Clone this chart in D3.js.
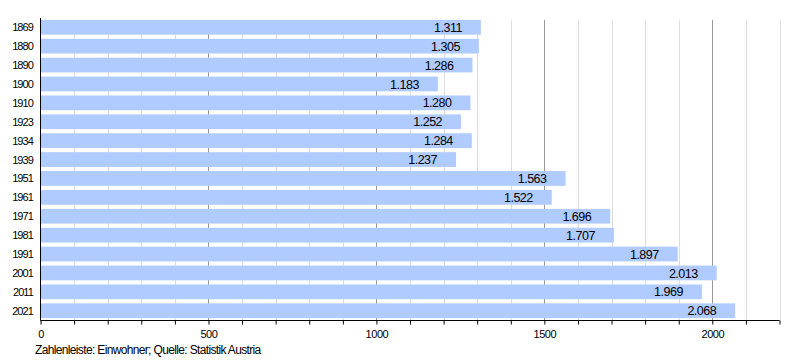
<!DOCTYPE html>
<html><head><meta charset="utf-8">
<script src="https://cdn.jsdelivr.net/npm/d3@7"></script>
<style>body{margin:0;background:#fff}svg{font-family:"Liberation Sans",Arial,sans-serif}</style>
</head><body>
<svg id="c" width="800" height="360"></svg>
<script>
const years = ["1869","1880","1890","1900","1910","1923","1934","1939","1951","1961","1971","1981","1991","2001","2011","2021"];
const population = [1311,1305,1286,1183,1280,1252,1284,1237,1563,1522,1696,1707,1897,2013,1969,2068];
const majorTicks = [0,500,1000,1500,2000];
const caption = "Zahlenleiste: Einwohner; Quelle: Statistik Austria";

const svg = d3.select("#c");
const x = d3.scaleLinear().domain([0,2200]).range([40.5,779.5]);
const y = d3.scaleBand().domain(years).range([18,320]).paddingInner(0.22).paddingOuter(0.1);
const axisY = 320.5;

// grid
const minor = d3.range(100,2201,100).filter(v=>v%500!==0);
svg.append("g").selectAll("line").data(minor).join("line")
  .attr("x1",d=>Math.round(x(d))+0.5).attr("x2",d=>Math.round(x(d))+0.5)
  .attr("y1",20).attr("y2",axisY).attr("stroke","#dddddd").attr("stroke-width",1);
svg.append("g").selectAll("line").data(majorTicks.filter(d=>d>0)).join("line")
  .attr("x1",d=>Math.round(x(d))+0.5).attr("x2",d=>Math.round(x(d))+0.5)
  .attr("y1",20).attr("y2",axisY).attr("stroke","#999999").attr("stroke-width",1);

// bars
svg.append("g").selectAll("rect").data(years).join("rect")
  .attr("x",x(0)).attr("y",d=>y(d))
  .attr("width",(d,i)=>x(population[i])-x(0)).attr("height",y.bandwidth())
  .attr("fill","#b0cbff");

// value labels
const fmt = v => d3.format(",")(v).replace(/,/g,".");
svg.append("g").selectAll("text").data(years).join("text")
  .attr("x",(d,i)=>x(population[i])-19).attr("y",d=>y(d)+y.bandwidth()/2)
  .attr("dy","0.37em").attr("text-anchor","end").attr("font-size",12.5)
  .attr("letter-spacing","-0.5px").attr("fill","#000")
  .text((d,i)=>fmt(population[i]));

// y axis labels
svg.append("g").selectAll("text").data(years).join("text")
  .attr("x",33).attr("y",d=>y(d)+y.bandwidth()/2).attr("dy","0.36em")
  .attr("text-anchor","end").attr("font-size",11).attr("letter-spacing","-0.9px")
  .attr("fill","#000").text(d=>d);

// left axis line
svg.append("line").attr("x1",40.5).attr("x2",40.5).attr("y1",18).attr("y2",axisY).attr("stroke","#000");

// x axis
const xAxis = d3.axisBottom(x).tickValues(d3.range(0,2201,100)).tickSize(4)
  .tickFormat(d=>majorTicks.includes(d)?d:"");
const g = svg.append("g").attr("transform",`translate(0,${axisY})`).call(xAxis);
g.select(".domain").attr("d",`M${x(0)},0H${x(2200)}`).attr("stroke","#000");
g.selectAll(".tick line").attr("stroke","#000");
g.selectAll(".tick text").attr("font-size",11).attr("letter-spacing","-0.45px")
  .attr("font-family","Liberation Sans, Arial, sans-serif").attr("fill","#000").attr("y",10);

svg.append("text").attr("x",35).attr("y",354).attr("font-size",12)
  .attr("letter-spacing","-0.65px").attr("fill","#000").text(caption);
</script>
</body></html>
